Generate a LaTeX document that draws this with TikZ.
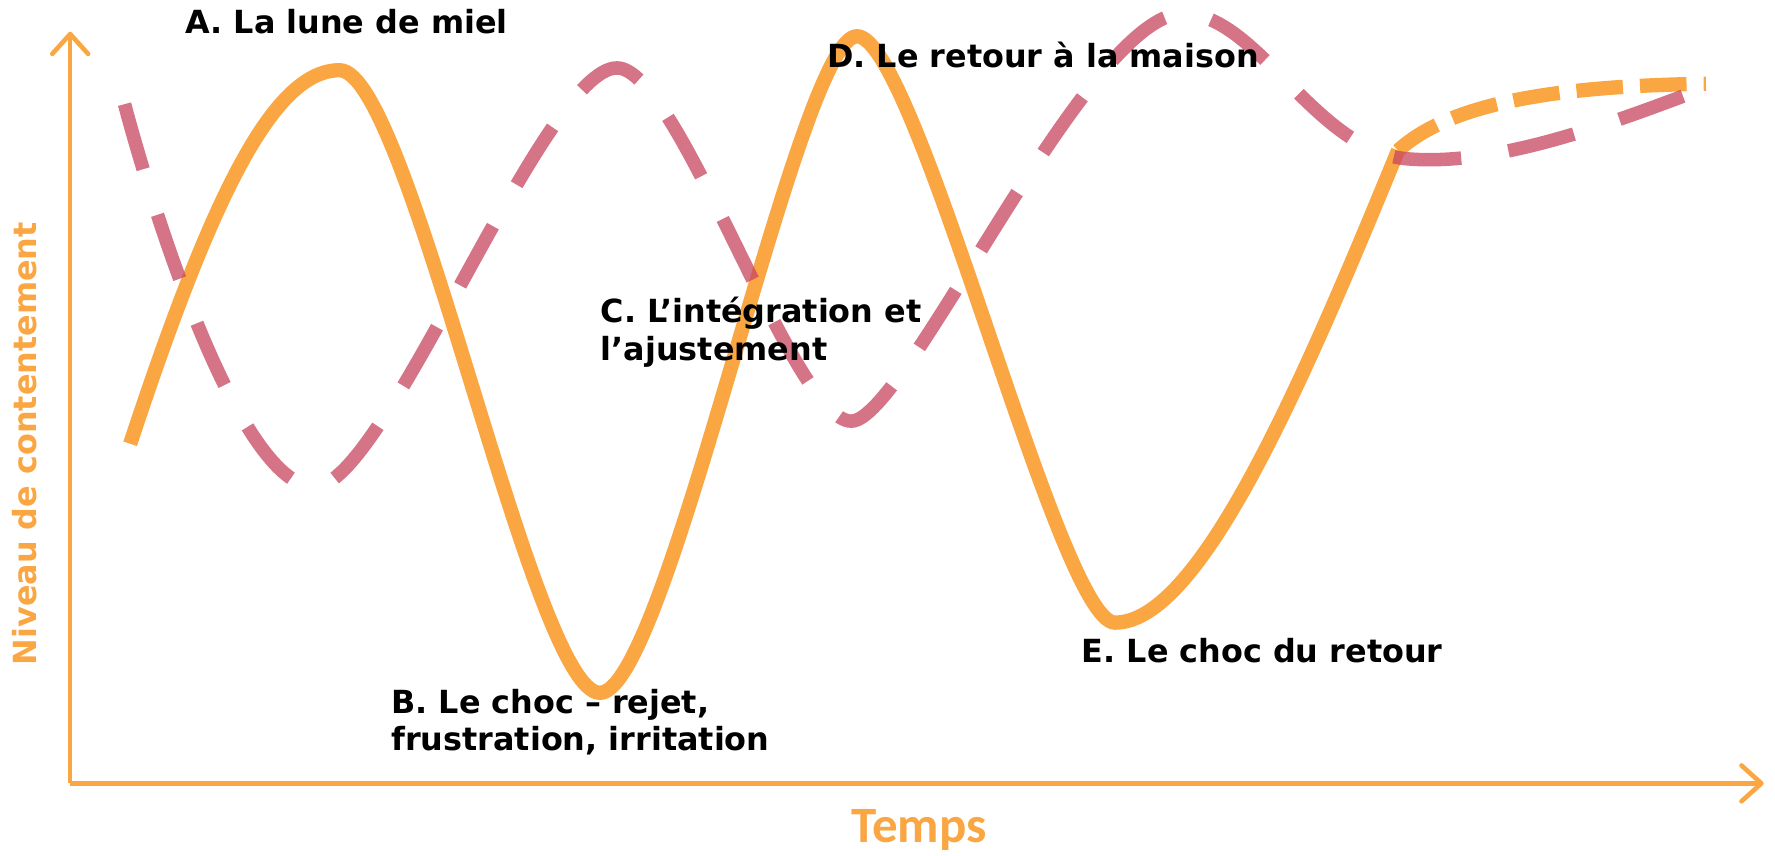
\documentclass[tikz,border=0pt]{standalone}
\usepackage{fontspec}
\setmainfont{DejaVu Sans}
\newfontfamily\calibri{Carlito}
\usetikzlibrary{arrows.meta}
\definecolor{orng}{RGB}{250,166,66}
\definecolor{pnk}{RGB}{200,70,95}
\begin{document}
\begin{tikzpicture}[x=0.01cm,y=-0.01cm,
  axis/.style={draw=orng,line width=1.15pt,-{Straight Barb[length=5pt,width=9pt,line cap=round,line join=round]}},
  solidcurve/.style={draw=orng,line width=3.6pt},
  orngdash/.style={draw=orng,line width=3.6pt,dash pattern=on 11.7pt off 4.3pt},
  pinkdash/.style={draw=pnk,draw opacity=0.75,line width=3.4pt,dash pattern=on 17pt off 12pt},
  lbl/.style={font=\bfseries\fontsize{8pt}{9.4pt}\selectfont,inner sep=0pt,align=left,text=black},
  axlbl/.style={text=orng,inner sep=0pt}]
\useasboundingbox (0,0) rectangle (1568,756);
\coordinate (O) at (62,692);
\coordinate (Ytop) at (62,28);
\coordinate (Xend) at (1558,692);
\draw[axis] (O) -- (Ytop);
\draw[axis] (O) -- (Xend);
% solid orange curve
\coordinate (s0) at (115,392);
\coordinate (p1) at (300,62);
\coordinate (t1) at (530,612);
\coordinate (p2) at (757,32);
\coordinate (t2) at (985,550);
\coordinate (j) at (1235,133);
\coordinate (oend) at (1507,74);
\draw[solidcurve] (s0) .. controls (185,180) and (240,62) .. (p1)
  .. controls (362,62) and (470,612) .. (t1)
  .. controls (590,612) and (705,32) .. (p2)
  .. controls (810,32) and (935,550) .. (t2)
  .. controls (1060,550) and (1150,340) .. (j);
\draw[orngdash] (j) .. controls (1280,92) and (1370,76) .. (oend);
% pink dashed curve
\coordinate (q0) at (110,92);
\coordinate (u1) at (278,430);
\coordinate (q1) at (545,60);
\coordinate (u2) at (752,372);
\coordinate (q2) at (1045,12);
\coordinate (u3) at (1240,140);
\coordinate (qend) at (1500,80);
\draw[pinkdash] (q0) .. controls (150,240) and (220,430) .. (u1)
  .. controls (340,430) and (480,60) .. (q1)
  .. controls (600,60) and (700,372) .. (u2)
  .. controls (800,372) and (960,12) .. (q2)
  .. controls (1110,12) and (1160,130) .. (u3)
  .. controls (1320,148) and (1420,110) .. (qend);
% labels
\node[lbl,anchor=base west] (A) at (163,30) {A. La lune de miel};
\node[lbl,anchor=base west] (D) at (730,60) {D. Le retour à la maison};
\node[lbl,anchor=north west] (C) at (530,262) {C. L’intégration et\\l’ajustement};
\node[lbl,anchor=north west] (B) at (345,608) {B. Le choc – rejet,\\frustration, irritation};
\node[lbl,anchor=base west] (E) at (955,585) {E. Le choc du retour};
\node[axlbl,font=\calibri\bfseries\fontsize{12.8pt}{14pt}\selectfont] (T) at (812,733) {Temps};
\node[axlbl,rotate=90,font=\bfseries\fontsize{8pt}{9pt}\selectfont] (N) at (22,392) {Niveau de contentement};
\end{tikzpicture}
\end{document}
